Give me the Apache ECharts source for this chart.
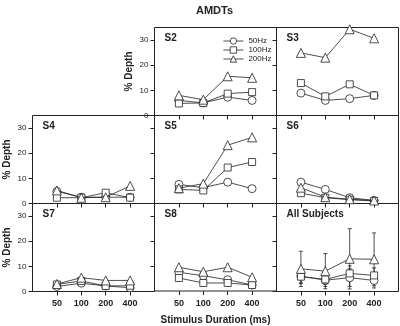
<!DOCTYPE html>
<html>
<head>
<meta charset="utf-8">
<script src="https://cdn.jsdelivr.net/npm/echarts@6/dist/echarts.min.js"></script>
<style>
  html, body { margin: 0; padding: 0; background: #fff; }
  #chart { width: 400px; height: 326px; }
</style>
</head>
<body>
<div id="chart"></div>
<script>
// stimulus durations (ms), shown as evenly spaced positions 1..4
var durations = ['50', '100', '200', '400'];
var panelNames = ['S2', 'S3', 'S4', 'S5', 'S6', 'S7', 'S8', 'All Subjects'];
var freqNames = ['50Hz', '100Hz', '200Hz'];
var depthTicks = [0, 10, 20, 30];

// % depth thresholds, one row per panel (same order as panelNames)
var depth50Hz = [
  [6.0, 5.0, 7.3, 6.0],
  [8.9, 6.0, 6.7, 8.0],
  [4.8, 2.5, 2.5, 2.5],
  [7.6, 6.3, 8.5, 5.9],
  [8.5, 5.6, 2.3, 1.2],
  [2.0, 3.3, 2.2, 1.5],
  [7.5, 6.1, 4.5, 2.4],
  [6.1, 4.5, 5.5, 4.4]
];
var depth100Hz = [
  [4.8, 5.0, 8.7, 9.3],
  [12.9, 7.6, 12.4, 8.0],
  [2.3, 2.3, 4.3, 2.3],
  [5.6, 5.2, 14.3, 16.5],
  [4.1, 2.3, 1.5, 1.0],
  [2.8, 4.2, 2.2, 2.3],
  [5.2, 3.2, 3.2, 2.4],
  [5.9, 4.8, 7.2, 6.4]
];
var depth200Hz = [
  [8.0, 6.3, 15.6, 15.0],
  [24.9, 23.0, 34.3, 30.7],
  [5.2, 2.3, 2.5, 7.0],
  [6.1, 7.9, 23.2, 26.3],
  [6.3, 2.5, 1.7, 1.2],
  [3.0, 5.5, 4.4, 4.4],
  [9.5, 7.7, 9.5, 5.5],
  [9.0, 8.1, 13.0, 12.8]
];
// standard deviations for the "All Subjects" panel
var sdAll50Hz = [3.0, 2.5, 3.5, 3.0];
var sdAll100Hz = [2.5, 2.0, 3.0, 3.0];
var sdAll200Hz = [7.0, 7.0, 12.0, 10.5];

(function () {
  var myChart = echarts.init(document.getElementById('chart'));
  var font = 'Liberation Sans, Arial, sans-serif';
  var ink = '#222';

  // panel placement: [column, row]
  var cells = [[1, 0], [2, 0], [0, 1], [1, 1], [2, 1], [0, 2], [1, 2], [2, 2]];
  var colLeft = [32.5, 154.5, 276.5];
  var rowTop = [27.5, 115.5, 203.5];
  var cellW = 122, cellH = 88;

  var grids = [], xAxes = [], yAxes = [], series = [], texts = [];
  var allData = [depth50Hz, depth100Hz, depth200Hz];
  var symbols = ['circle', 'rect', 'triangle'];
  var symSizes = [8, 7, 9];
  var sdAll = [sdAll50Hz, sdAll100Hz, sdAll200Hz];

  panelNames.forEach(function (name, p) {
    var col = cells[p][0], row = cells[p][1];
    grids.push({
      left: colLeft[col], top: rowTop[row], width: cellW, height: cellH,
      show: true, borderColor: ink, borderWidth: 1, backgroundColor: 'transparent'
    });
    var showY = (p === 0 || col === 0);
    var showX = (row === 2);
    xAxes.push({
      type: 'value', gridIndex: p, min: 0, max: 5,
      axisLine: { show: false },
      splitLine: { show: false },
      axisTick: { show: true, length: 4, customValues: [1, 2, 3, 4], lineStyle: { color: ink } },
      axisLabel: {
        show: showX, customValues: [1, 2, 3, 4], margin: 8,
        fontFamily: font, fontSize: 9, fontWeight: 'bold', color: ink,
        formatter: function (v) { return durations[v - 1] || ''; }
      },
      name: p === 6 ? 'Stimulus Duration (ms)' : '',
      nameLocation: 'middle', nameGap: 24,
      nameTextStyle: { fontFamily: font, fontSize: 10, fontWeight: 'bold', color: ink }
    });
    yAxes.push({
      type: 'value', gridIndex: p, min: 0, max: 35,
      axisLine: { show: false },
      splitLine: { show: false },
      axisTick: { show: true, length: 4, customValues: depthTicks, lineStyle: { color: ink } },
      axisLabel: {
        show: showY, customValues: depthTicks, margin: 6,
        fontFamily: font, fontSize: 8, color: ink
      },
      name: showY ? '% Depth' : '',
      nameLocation: 'middle', nameGap: 20, nameRotate: 90,
      nameTextStyle: { fontFamily: font, fontSize: 10, fontWeight: 'bold', color: ink }
    });

    texts.push({
      type: 'text', left: colLeft[col] + 10, top: rowTop[row] + 6,
      style: { text: name, font: 'bold 10px ' + font, fill: ink }
    });

    allData.forEach(function (rows, f) {
      series.push({
        name: freqNames[f], type: 'line', xAxisIndex: p, yAxisIndex: p,
        data: rows[p].map(function (v, i) { return [i + 1, v]; }),
        symbol: symbols[f], symbolSize: symSizes[f], showAllSymbol: true,
        lineStyle: { color: ink, width: 0.8 },
        itemStyle: { color: '#fff', borderColor: ink, borderWidth: 0.8 },
        emphasis: { disabled: true },
        z: 3 + f
      });
      if (name === 'All Subjects') {
        series.push({
          type: 'custom', xAxisIndex: p, yAxisIndex: p, z: 2,
          data: rows[p].map(function (v, i) { return [i + 1, v, sdAll[f][i]]; }),
          renderItem: function (params, api) {
            var x = api.value(0), y = api.value(1), sd = api.value(2);
            var hi = api.coord([x, y + sd]);
            var lo = api.coord([x, y - sd]);
            var st = { stroke: ink, lineWidth: 0.8 };
            return {
              type: 'group', children: [
                { type: 'line', shape: { x1: hi[0], y1: hi[1], x2: lo[0], y2: lo[1] }, style: st },
                { type: 'line', shape: { x1: hi[0] - 2, y1: hi[1], x2: hi[0] + 2, y2: hi[1] }, style: st },
                { type: 'line', shape: { x1: lo[0] - 2, y1: lo[1], x2: lo[0] + 2, y2: lo[1] }, style: st }
              ]
            };
          }
        });
      }
    });
  });

  texts.push({
    type: 'text', left: 196, top: 5,
    style: { text: 'AMDTs', font: 'bold 11px ' + font, fill: ink }
  });

  var option = {
    animation: false,
    backgroundColor: '#fff',
    grid: grids,
    xAxis: xAxes,
    yAxis: yAxes,
    legend: {
      data: freqNames, orient: 'vertical', left: 218, top: 32,
      itemWidth: 20, itemHeight: 8, itemGap: 1,
      itemStyle: { borderWidth: 0.8 },
      lineStyle: { width: 0.8 },
      textStyle: { fontFamily: font, fontSize: 8, color: ink },
      selectedMode: false
    },
    graphic: texts,
    series: series
  };

  myChart.setOption(option);
  window.addEventListener('resize', function () {
    myChart.resize();
  });
})();
</script>
</body>
</html>
